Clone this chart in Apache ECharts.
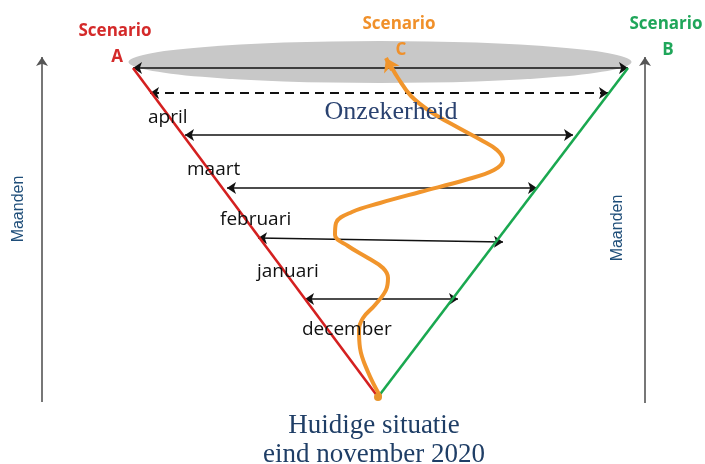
<!DOCTYPE html>
<html>
<head>
    <meta charset="UTF-8"/>
    <title>Onzekerheid - scenario's</title>
    <style>
        html, body { margin: 0; padding: 0; background: #fff; }
        #main { width: 705px; height: 464px; }
    </style>
</head>
<body>
<div id="main"></div>
<script src="https://cdn.jsdelivr.net/npm/echarts@6/dist/echarts.min.js"></script>
<script type="text/javascript">
    // punten in beeldcoordinaten (x rechts, y omlaag)
    const apex = [378, 397];
    const scenarioA = [[378, 397], [133, 68]];
    const scenarioB = [[378, 397], [628, 68]];
    const horizon = [[380, 62]];
    const monthArrows = [
        [[133, 68], [628, 68]],
        [[185, 135], [573, 135]],
        [[227, 188], [537, 188]],
        [[258, 238], [503, 242]],
        [[305, 299], [458, 299]]
    ];
    const dashedArrow = [[150, 93], [608, 93]];
    const timeAxes = [
        [[42, 402], [42, 57]],
        [[645, 403], [645, 57]]
    ];
    const scenarioC = [
        [380, 396], [368, 372], [360, 348], [359, 330], [363, 318], [375, 305],
        [386, 290], [388, 278], [383, 268], [368, 258], [348, 246], [335, 235],
        [336, 223], [352, 212], [380, 203], [420, 192], [465, 180], [494, 170],
        [503, 160], [497, 150], [481, 140], [457, 127], [431, 112], [411, 96],
        [398, 78], [392, 68]
    ];
    const scenarioCTip = [[392, 70], [386, 58]];
    const months = ['april', 'maart', 'februari', 'januari', 'december'];
    const monthPos = [[148, 118], [187, 170], [220, 220], [257, 272], [302, 330]];

    const chart = echarts.init(document.getElementById('main'));

    const graphics = [];
    months.forEach(function (m, i) {
        graphics.push({
            type: 'text', x: monthPos[i][0], y: monthPos[i][1], z: 100,
            style: {text: m, font: '19px "Open Sans"', fill: '#111', textVerticalAlign: 'middle'}
        });
    });
    function scen(txt, letter, x, y, color) {
        graphics.push({
            type: 'text', x: x, y: y, z: 100,
            style: {text: txt, font: 'bold 17px "Open Sans"', fill: color, textAlign: 'center', textVerticalAlign: 'middle'}
        });
        graphics.push({
            type: 'text', x: x + 2, y: y + 26, z: 100,
            style: {text: letter, font: 'bold 17px "Open Sans"', fill: color, textAlign: 'center', textVerticalAlign: 'middle'}
        });
    }
    scen('Scenario', 'A', 115, 31, '#d42a2a');
    scen('Scenario', 'C', 399, 24, '#f0902a');
    scen('Scenario', 'B', 666, 24, '#1fa65a');
    graphics.push(
        {type: 'text', x: 391, y: 112, z: 100,
            style: {text: 'Onzekerheid', font: '26px "Liberation Serif"', fill: '#2a4270', textAlign: 'center', textVerticalAlign: 'middle'}},
        {type: 'text', x: 374, y: 426, z: 100,
            style: {text: 'Huidige situatie', font: '27px "Liberation Serif"', fill: '#1f3e66', textAlign: 'center', textVerticalAlign: 'middle'}},
        {type: 'text', x: 374, y: 455, z: 100,
            style: {text: 'eind november 2020', font: '27px "Liberation Serif"', fill: '#1f3e66', textAlign: 'center', textVerticalAlign: 'middle'}},
        {type: 'text', x: 19, y: 209, rotation: Math.PI / 2, z: 100,
            style: {text: 'Maanden', font: '16px "Liberation Sans"', fill: '#1f4e79', textAlign: 'center', textVerticalAlign: 'middle'}},
        {type: 'text', x: 618, y: 228, rotation: Math.PI / 2, z: 100,
            style: {text: 'Maanden', font: '16px "Liberation Sans"', fill: '#1f4e79', textAlign: 'center', textVerticalAlign: 'middle'}}
    );

    const option = {
        animation: false,
        grid: {left: 0, right: 0, top: 0, bottom: 0},
        xAxis: {type: 'value', min: 0, max: 705, show: false},
        yAxis: {type: 'value', min: 0, max: 464, inverse: true, show: false},
        graphic: graphics,
        series: [
            {
                type: 'scatter', data: horizon, z: 1,
                symbol: 'path://M0 50 A50 50 0 1 1 100 50 A50 50 0 1 1 0 50 Z',
                symbolSize: [503, 42],
                itemStyle: {color: '#c8c8c8', opacity: 1}
            },
            {
                type: 'lines', coordinateSystem: 'cartesian2d', z: 2,
                data: monthArrows.map(function (c) { return {coords: c}; }),
                symbol: ['arrow', 'arrow'], symbolSize: 9,
                lineStyle: {color: '#111', width: 1.6, opacity: 1}
            },
            {
                type: 'lines', coordinateSystem: 'cartesian2d', z: 2,
                data: [{coords: dashedArrow}],
                symbol: ['arrow', 'arrow'], symbolSize: 9,
                lineStyle: {color: '#111', width: 1.8, type: [9, 6], opacity: 1}
            },
            {
                type: 'lines', coordinateSystem: 'cartesian2d', z: 2,
                data: timeAxes.map(function (c) { return {coords: c}; }),
                symbol: ['none', 'arrow'], symbolSize: 9,
                lineStyle: {color: '#555', width: 1.6, opacity: 1}
            },
            {
                type: 'line', data: scenarioA, z: 3, symbol: 'none',
                lineStyle: {color: '#d42020', width: 2.6}
            },
            {
                type: 'line', data: scenarioB, z: 3, symbol: 'none',
                lineStyle: {color: '#1aa850', width: 2.6}
            },
            {
                type: 'line', data: scenarioC, z: 4, symbol: 'none', smooth: 0.4,
                lineStyle: {color: '#f1952c', width: 4, cap: 'round'}
            },
            {
                type: 'lines', coordinateSystem: 'cartesian2d', z: 4,
                data: [{coords: scenarioCTip}],
                symbol: ['none', 'arrow'], symbolSize: 13,
                lineStyle: {color: '#f1952c', width: 4, opacity: 1}
            },
            {
                type: 'scatter', data: [apex], z: 5, symbolSize: 8,
                itemStyle: {color: '#e8952c', opacity: 1}
            }
        ]
    };
    chart.setOption(option);
</script>
</body>
</html>
